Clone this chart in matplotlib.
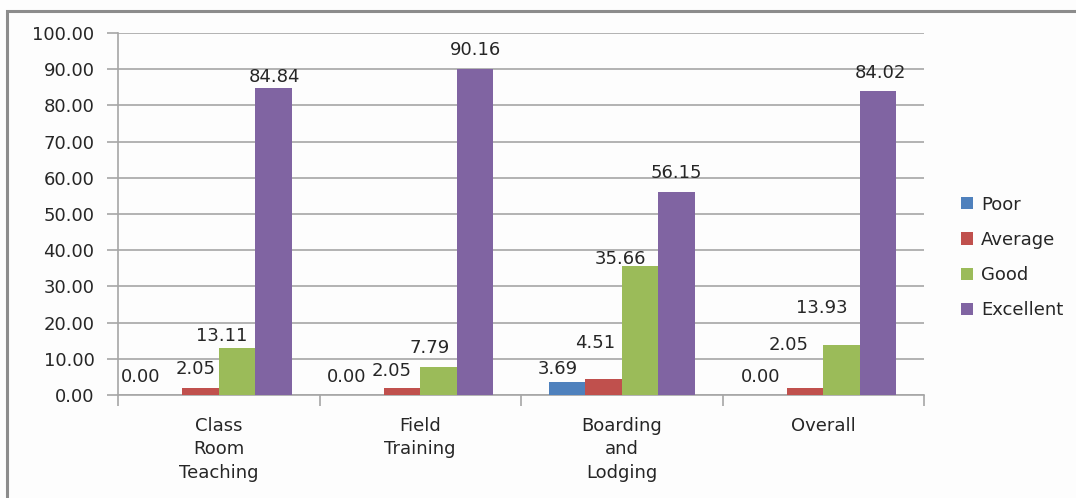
import numpy as np
import matplotlib.pyplot as plt
from matplotlib.patches import Rectangle

# ---------------------------- DATA ----------------------------
categories = ['Class\nRoom\nTeaching', 'Field\nTraining', 'Boarding\nand\nLodging', 'Overall']
series = ['Poor', 'Average', 'Good', 'Excellent']
poor = [0.00, 0.00, 3.69, 0.00]
average = [2.05, 2.05, 4.51, 2.05]
good = [13.11, 7.79, 35.66, 13.93]
excellent = [84.84, 90.16, 56.15, 84.02]
yticks = np.arange(0, 101, 10)

# label nudges (pixels, right/up from bar top centre), per series then category
nudge = [
    [(-23, 18), (-19, 18), (-9, 13), (-8, 18)],
    [(-5, 19), (-10, 17), (-8, 36), (-16, 43)],
    [(-15, 12), (-9, 19), (-20, 7), (-20, 37)],
    [(1, 11), (1, 19), (0, 19), (2, 18)],
]
colors = ['#4F81BD', '#C0504D', '#9BBB59', '#8064A2']
txt = '#262626'
grid = '#A6A6A6'
fs = 13

# ---------------------------- PLOT ----------------------------
plt.rcParams['font.family'] = 'DejaVu Sans'
fig = plt.figure(figsize=(10.76, 4.98), dpi=100, facecolor='#FDFDFD')
ax = fig.add_axes([118 / 1076, 1 - 395 / 498, 806 / 1076, 362 / 498])
ax.set_facecolor('#FDFDFD')

# outer chart border
fig.patches.append(Rectangle((7 / 1076, -0.1), 1.2, (487 / 498) + 0.1,
                             transform=fig.transFigure, fill=False,
                             edgecolor='#8C8C8C', linewidth=2.2))

x = np.arange(len(categories))
w = 0.181
for j, vals in enumerate([poor, average, good, excellent]):
    pos = x + (j - 1.5) * w
    bars = ax.bar(pos, vals, width=w, color=colors[j], label=series[j],
                  zorder=3)
    for k, b in enumerate(bars):
        dx, dy = nudge[j][k]
        ax.annotate('%.2f' % vals[k],
                    (b.get_x() + b.get_width() / 2, b.get_height()),
                    xytext=(dx, dy), textcoords='offset pixels',
                    ha='center', va='center', fontsize=fs, color=txt,
                    zorder=4)

ax.set_xlim(-0.5, 3.5)
ax.set_ylim(0, 100)
ax.set_yticks(yticks)
ax.set_yticklabels(['%.2f' % v for v in yticks])
ax.yaxis.grid(True, color=grid, linewidth=1.2, zorder=0)
ax.set_axisbelow(True)

ax.set_xticks(x)
ax.set_xticklabels(categories, linespacing=1.37)
ax.set_xticks(np.arange(-0.5, 4, 1), minor=True)
ax.tick_params(axis='x', which='major', length=0, pad=16, labelsize=fs,
               labelcolor=txt)
ax.tick_params(axis='x', which='minor', length=8, width=1.2, color=grid)
ax.tick_params(axis='y', length=8, width=1.2, color=grid, pad=9,
               labelsize=fs, labelcolor=txt)

for s in ['top', 'right']:
    ax.spines[s].set_visible(False)
for s in ['left', 'bottom']:
    ax.spines[s].set_color(grid)
    ax.spines[s].set_linewidth(1.2)

ax.legend(loc='center left', bbox_to_anchor=(1.037, 0.38), frameon=False,
          fontsize=fs, labelcolor=txt, handlelength=0.65, handleheight=0.65,
          handletextpad=0.45, labelspacing=0.95, borderaxespad=0)

fig.savefig('out.png', dpi=100, facecolor=fig.get_facecolor())
